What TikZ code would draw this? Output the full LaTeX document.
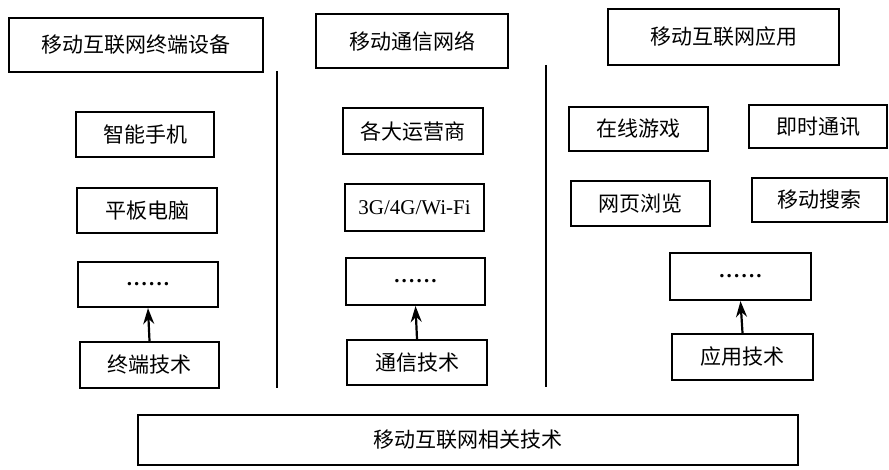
\documentclass[tikz,border=0pt]{standalone}
\usepackage{fontspec}
\usetikzlibrary{arrows.meta}
\setmainfont{Liberation Serif}
\newfontfamily\cjk{Noto Sans CJK SC}
\newcommand\sixdots{\textbf{.\kern2.2pt.\kern2.2pt.\kern2.2pt.\kern2.2pt.\kern2.2pt.}}
\begin{document}
\begin{tikzpicture}[x=1pt,y=-1pt,
  box/.style={draw,line width=2.2pt,rectangle,inner sep=0pt,font=\fontsize{21}{24}\selectfont},
  sep/.style={line width=2.2pt},
  up/.style={-{Stealth[length=16pt,width=11pt]},line width=2.2pt}]
\useasboundingbox (0,0) rectangle (889,470);
% headers
\node[box,minimum width=254pt,minimum height=54pt] (h1) at (136,45) {\cjk 移动互联网终端设备};
\node[box,minimum width=192pt,minimum height=54pt] (h2) at (412,41) {\cjk 移动通信网络};
\node[box,minimum width=231pt,minimum height=56pt] (h3) at (723.5,37) {\cjk 移动互联网应用};
% column 1
\node[box,minimum width=138pt,minimum height=45pt] (a1) at (145,134.5) {\cjk 智能手机};
\node[box,minimum width=140pt,minimum height=45pt] (a2) at (147,210.5) {\cjk 平板电脑};
\node[box,minimum width=140pt,minimum height=45pt] (a3) at (148,284.5) {\sixdots};
\node[box,minimum width=139pt,minimum height=46pt] (a4) at (149.5,365) {\cjk 终端技术};
% column 2
\node[box,minimum width=140pt,minimum height=46pt] (b1) at (413,131) {\cjk 各大运营商};
\node[box,minimum width=139pt,minimum height=47pt] (b2) at (414.5,207.5) {3G/4G/Wi-Fi};
\node[box,minimum width=139pt,minimum height=47pt] (b3) at (415.5,281.5) {\sixdots};
\node[box,minimum width=140pt,minimum height=45pt] (b4) at (417,362.5) {\cjk 通信技术};
% column 3
\node[box,minimum width=139pt,minimum height=44pt] (c1) at (638.5,129) {\cjk 在线游戏};
\node[box,minimum width=138pt,minimum height=43pt] (c2) at (818,126.5) {\cjk 即时通讯};
\node[box,minimum width=139pt,minimum height=45pt] (c3) at (640.5,203.5) {\cjk 网页浏览};
\node[box,minimum width=135pt,minimum height=44pt] (c4) at (819.5,200) {\cjk 移动搜索};
\node[box,minimum width=141pt,minimum height=47pt] (c5) at (740.5,276.5) {\sixdots};
\node[box,minimum width=141pt,minimum height=46pt] (c6) at (742.5,357) {\cjk 应用技术};
% bottom
\node[box,minimum width=660pt,minimum height=50pt] (bt) at (468,440) {\cjk 移动互联网相关技术};
% separators
\coordinate (s1t) at (277,71);
\coordinate (s1b) at (277,388);
\coordinate (s2t) at (546,65);
\coordinate (s2b) at (546,387);
\draw[sep] (s1t) -- (s1b);
\draw[sep] (s2t) -- (s2b);
% arrows
\draw[up] (a4.north) -- (a3.south);
\draw[up] (b4.north) -- (b3.south);
\draw[up] (c6.north) -- (c5.south);
\end{tikzpicture}
\end{document}
